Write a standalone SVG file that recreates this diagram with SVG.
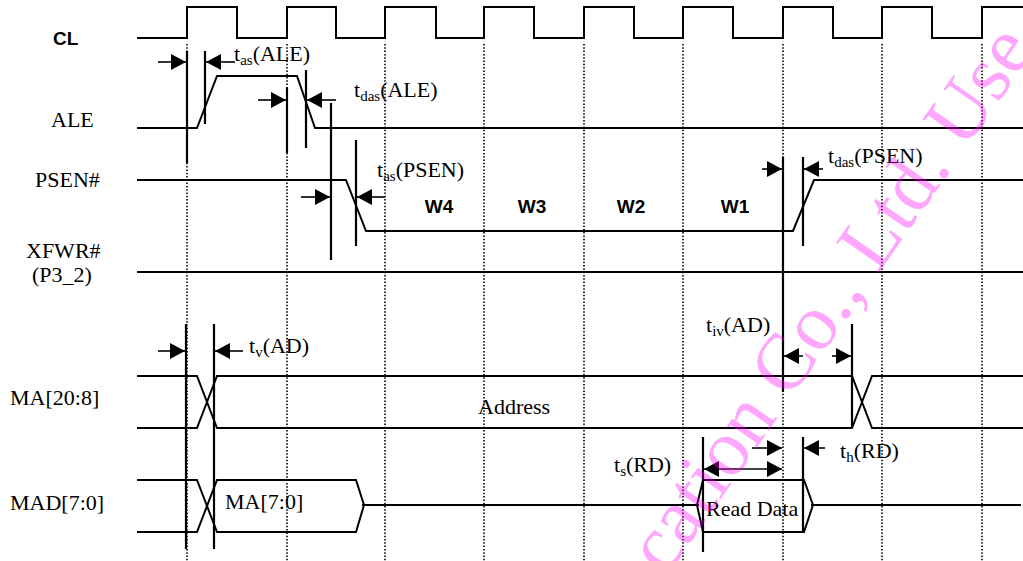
<svg xmlns="http://www.w3.org/2000/svg" width="1023" height="561" viewBox="0 0 1023 561">
<defs>
<marker id="ah" viewBox="0 0 15 16" refX="15" refY="8" markerWidth="15" markerHeight="16" markerUnits="userSpaceOnUse" orient="auto-start-reverse"><path d="M0,0 L15,8 L0,16 Z" fill="#000"/></marker>
</defs>
<style>
.sig{fill:none;stroke:#000;stroke-width:2}
.dot{fill:none;stroke:#000;stroke-width:1.6;stroke-dasharray:1.5 1.8}
.ref{fill:none;stroke:#000;stroke-width:2.2}
.arr{fill:none;stroke:#000;stroke-width:1.6;marker-end:url(#ah)}
.lbl{font-family:"Liberation Sans","Arial",sans-serif;font-size:22px;fill:#000}
.lbl{font-family:"Liberation Serif","Times New Roman",serif}
.sub{font-size:15px}
.bold{font-family:"Liberation Sans",Arial,sans-serif;font-weight:bold;font-size:19px;fill:#000}
.wm{font-family:"Liberation Serif","Times New Roman",serif;font-size:80px;fill:#f0f;fill-opacity:0.35}
</style>
<rect width="1023" height="561" fill="#fff"/>
<g id="grid">
<path class="dot" d="M187,44V561 M287,44V561 M385,44V561 M484,44V561 M584,44V561 M683,44V561 M783,44V561 M882,44V561 M982,44V561"/>
</g>
<g id="sig-CL">
<text class="bold" x="53" y="45">CL</text>
<path class="sig" d="M137,38H187V7H237V38H287V7H336V38H385V7H436V38H484V7H534V38H584V7H634V38H683V7H733V38H783V7H833V38H882V7H932V38H982V7H1023"/>
</g>
<g id="sig-ALE">
<text class="lbl" x="51" y="127">ALE</text>
<path class="sig" d="M137,128H197L217,76H297L315,128H1023"/>
</g>
<g id="sig-PSEN">
<text class="lbl" x="35" y="187">PSEN#</text>
<path class="sig" d="M137,180H346L366,231H793L814,180H1023"/>
</g>
<g id="sig-XFWR">
<text class="lbl" x="26" y="258">XFWR#</text>
<text class="lbl" x="32" y="282">(P3_2)</text>
<path class="sig" d="M137,272H1023"/>
</g>
<g id="sig-MA">
<text class="lbl" x="10" y="405">MA[20:8]</text>
<path class="sig" d="M137,376H197L217,428H852L872,376H1023 M137,428H197L217,376H852L872,428H1023"/>
<text class="lbl" x="478" y="414">Address</text>
</g>
<g id="sig-MAD">
<text class="lbl" x="10" y="510">MAD[7:0]</text>
<path class="sig" d="M137,480H197L217,532H356L364,505L356,480H217L197,532H137 M362,505H699 M703,480L697,505L703,532H804L813,505L804,480Z M811,505H1021"/>
<text class="lbl" x="225" y="509">MA[7:0]</text>
<text class="lbl" x="706" y="516">Read Data</text>
</g>
<g id="wait-states">
<text class="bold" x="439" y="213" text-anchor="middle">W4</text>
<text class="bold" x="532" y="213" text-anchor="middle">W3</text>
<text class="bold" x="631" y="213" text-anchor="middle">W2</text>
<text class="bold" x="735" y="213" text-anchor="middle">W1</text>
</g>
<g id="connectors">
<path class="ref" d="M187,51V163 M205,51V124 M287,87V153 M306,70V148 M331,103V260 M356,140V246 M783,157V392 M803,157V246 M186,324V549 M214,324V549 M852,324V428 M703,437V552 M803,437V532"/>
<path class="arr" d="M158,62H186"/>
<path class="arr" d="M235,62H206"/>
<path class="arr" d="M258,100H286"/>
<path class="arr" d="M336,100H307"/>
<path class="arr" d="M301,197H330"/>
<path class="arr" d="M385,197H357"/>
<path class="arr" d="M762,169H782"/>
<path class="arr" d="M823,169H804"/>
<path class="arr" d="M158,351H185"/>
<path class="arr" d="M243,351H215"/>
<path class="arr" d="M803,356H784"/>
<path class="arr" d="M832,356H851"/>
<path class="arr" d="M752,448H782"/>
<path class="arr" d="M825,448H804"/>
<path class="arr" d="M704,469H782" style="marker-start:url(#ah)"/>
</g>
<g id="timing-labels">
<text class="lbl" x="234" y="61">t<tspan class="sub" dy="4">as</tspan><tspan dy="-4">(ALE)</tspan></text>
<text class="lbl" x="354" y="97">t<tspan class="sub" dy="4">das</tspan><tspan dy="-4">(ALE)</tspan></text>
<text class="lbl" x="377" y="177">t<tspan class="sub" dy="4">as</tspan><tspan dy="-4">(PSEN)</tspan></text>
<text class="lbl" x="828" y="163">t<tspan class="sub" dy="4">das</tspan><tspan dy="-4">(PSEN)</tspan></text>
<text class="lbl" x="249" y="353">t<tspan class="sub" dy="4">v</tspan><tspan dy="-4">(AD)</tspan></text>
<text class="lbl" x="706" y="332">t<tspan class="sub" dy="4">iv</tspan><tspan dy="-4">(AD)</tspan></text>
<text class="lbl" x="840" y="458">t<tspan class="sub" dy="4">h</tspan><tspan dy="-4">(RD)</tspan></text>
<text class="lbl" x="614" y="472">t<tspan class="sub" dy="4">s</tspan><tspan dy="-4">(RD)</tspan></text>
</g>
<text class="wm" transform="translate(666,577) rotate(-55)">cation Co., Ltd. Use</text>
</svg>
